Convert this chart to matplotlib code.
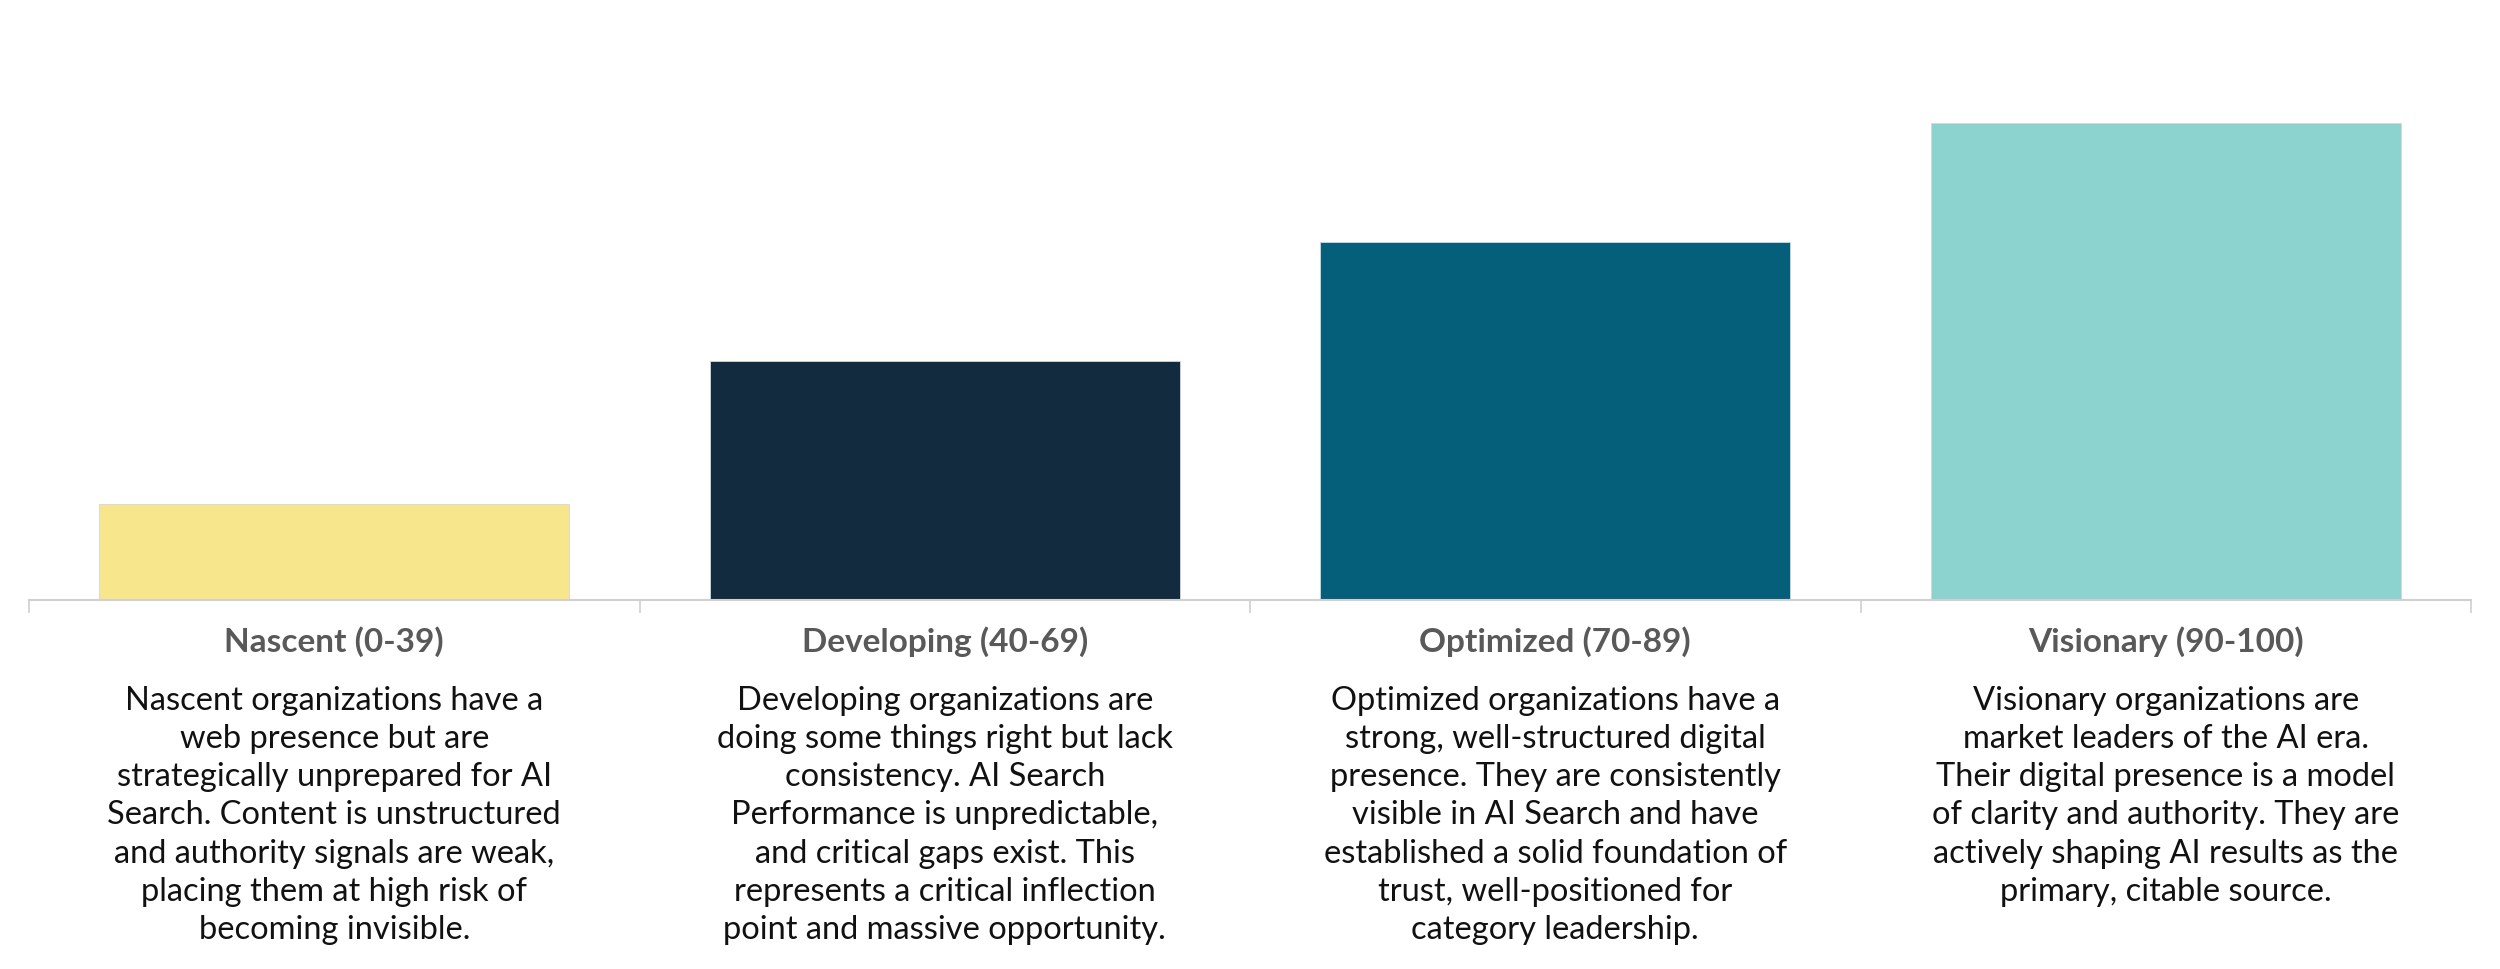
import matplotlib
matplotlib.use("Agg")
import matplotlib.pyplot as plt

categories = ["Nascent (0-39)", "Developing (40-69)", "Optimized (70-89)", "Visionary (90-100)"]
values = [20, 50, 75, 100]
colors = ["#F8E68C", "#132B3F", "#055F7B", "#8CD3CF"]
descriptions = [
    "Nascent organizations have a\nweb presence but are\nstrategically unprepared for AI\nSearch. Content is unstructured\nand authority signals are weak,\nplacing them at high risk of\nbecoming invisible.",
    "Developing organizations are\ndoing some things right but lack\nconsistency. AI Search\nPerformance is unpredictable,\nand critical gaps exist. This\nrepresents a critical inflection\npoint and massive opportunity.",
    "Optimized organizations have a\nstrong, well-structured digital\npresence. They are consistently\nvisible in AI Search and have\nestablished a solid foundation of\ntrust, well-positioned for\ncategory leadership.",
    "Visionary organizations are\nmarket leaders of the AI era.\nTheir digital presence is a model\nof clarity and authority. They are\nactively shaping AI results as the\nprimary, citable source.",
]

plt.rcParams['font.family'] = ['Lato', 'DejaVu Sans']

W, H = 2500, 969
fig = plt.figure(figsize=(W / 100, H / 100), dpi=100)
fig.patch.set_facecolor("white")

ax_bottom_px = 599.5
ax_top_px = 27.7
ax = fig.add_axes([29 / W, 1 - ax_bottom_px / H, 2442 / W, (ax_bottom_px - ax_top_px) / H])

x = list(range(len(categories)))
ax.bar(x, values, width=0.77, color=colors, edgecolor="#d6d6d6", linewidth=0.6, zorder=2)
ax.set_xlim(-0.5, len(categories) - 0.5)
ax.set_ylim(0, 120)

for s in ["top", "left", "right"]:
    ax.spines[s].set_visible(False)
ax.spines["bottom"].set_color("#d0d0d0")
ax.spines["bottom"].set_linewidth(1.5)
ax.set_yticks([])
ax.set_xticks([i - 0.5 for i in range(len(categories) + 1)])
ax.set_xticklabels([])
ax.tick_params(axis="x", direction="out", length=9, width=1.2, color="#d0d0d0")

for i, (cat, desc) in enumerate(zip(categories, descriptions)):
    ax.annotate(cat, xy=(i, 1 - 642 / H), xycoords=("data", "figure fraction"),
                ha="center", va="center", fontsize=24, fontweight="bold", color="#595959")
    ax.annotate(desc, xy=(i, 1 - 686 / H), xycoords=("data", "figure fraction"),
                ha="center", va="top", fontsize=23.5, color="#111111", linespacing=1.34)

fig.savefig("out.png", dpi=100, facecolor="white")
